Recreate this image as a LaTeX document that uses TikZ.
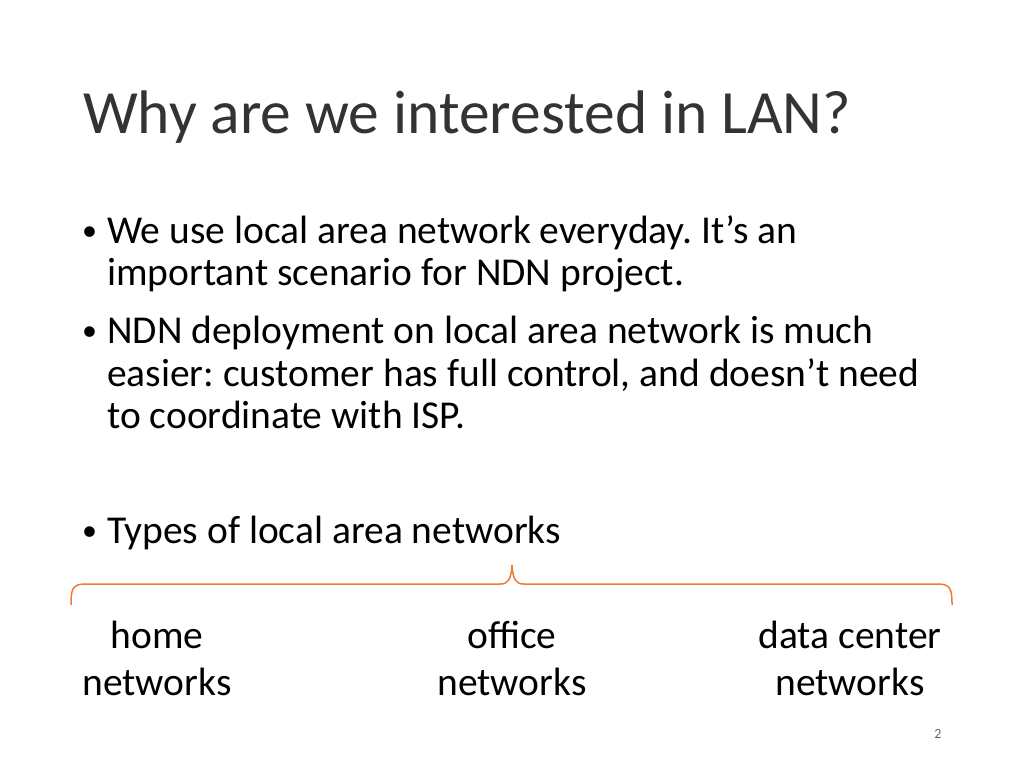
\documentclass[tikz,border=0pt]{standalone}
\usepackage{fontspec}
\setmainfont{Carlito}
\definecolor{brc}{RGB}{237,125,49}
\newcommand{\sq}{\char"0027\relax}
\begin{document}
\frenchspacing
\begin{tikzpicture}[x=1pt,y=-1pt,
  title/.style={anchor=base west,inner sep=0pt,font=\fontsize{61.5}{70}\selectfont,text=black!80},
  body/.style={anchor=base west,inner sep=0pt,font=\fontsize{39.5}{46}\selectfont},
  bul/.style={anchor=base west,inner sep=0pt,font=\fontsize{30}{36}\selectfont},
  lab/.style={anchor=base,inner sep=0pt,font=\fontsize{39.5}{46}\selectfont,align=center}]
\useasboundingbox (0,0) rectangle (1024,768);
\node[title] (t) at (83,133) {Why are we interested in LAN?};
\foreach \y [count=\i] in {240,340,540}
  {\node[bul] (b\i) at (82,\y) {\textbullet};}
\node[body] (l1) at (107,243) {We use local area network everyday. It\sq s an};
\node[body] (l2) at (107,285) {important scenario for NDN project.};
\node[body] (l3) at (107,343) {NDN deployment on local area network is much};
\node[body] (l4) at (107,386) {easier: customer has full control, and doesn\sq t need};
\node[body] (l5) at (107,428) {to coordinate with ISP.};
\node[body] (l6) at (107,543) {Types of local area networks};
\draw[brc,line width=1.5pt] (71,605) .. controls (71,590) and (72,584) .. (85,584) -- (500,584)
  .. controls (508,584) and (511,580) .. (512,565) .. controls (513,580) and (516,584) .. (524,584)
  -- (938,584) .. controls (951,584) and (952,590) .. (952,605);
\node[lab] (h1) at (157,648) {home};
\node[lab] (h2) at (157,695) {networks};
\node[lab] (o1) at (512,648) {office};
\node[lab] (o2) at (512,695) {networks};
\node[lab] (d1) at (850,648) {data center};
\node[lab] (d2) at (850,695) {networks};
\node[anchor=base,inner sep=0pt,font=\fontsize{14}{16}\selectfont,text=black!60] (p) at (938,738) {2};
\end{tikzpicture}
\end{document}
